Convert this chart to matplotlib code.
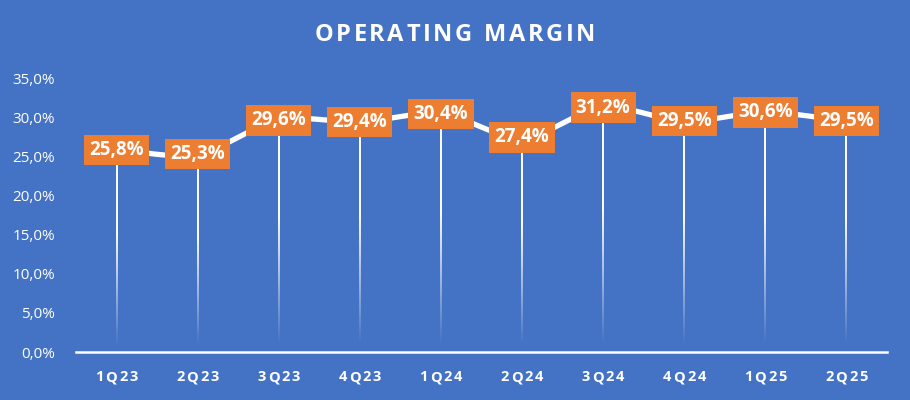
import numpy as np
import matplotlib
matplotlib.use("Agg")
import matplotlib.pyplot as plt
from matplotlib.collections import LineCollection

categories = ["1Q23", "2Q23", "3Q23", "4Q23", "1Q24", "2Q24", "3Q24", "4Q24", "1Q25", "2Q25"]
margin = [25.8, 25.3, 29.6, 29.4, 30.4, 27.4, 31.2, 29.5, 30.6, 29.5]
y_ticks = [0, 5, 10, 15, 20, 25, 30, 35]

BG = "#4472C4"
ORANGE = "#ED7D31"
plt.rcParams['font.family'] = ['Open Sans', 'DejaVu Sans']
W, H = 910, 400

fig = plt.figure(figsize=(9.1, 4.0), dpi=100, facecolor=BG)
ax = fig.add_axes([76/W, 1-352/H, (887-76)/W, (352-78)/H])
ax.set_facecolor(BG)
renderer = fig.canvas.get_renderer()

x = np.arange(len(categories))
y = np.array(margin)

def spaced_text(s, cx, cy, tracking, fontsize, **kw):
    """Draw string centered at pixel (cx, cy from top) with extra letter spacing (px)."""
    ts, widths = [], []
    for ch in s:
        if ch == " ":
            ts.append(None)
            widths.append(0.28 * fontsize * 100/72)
        else:
            t = fig.text(0, 0, ch, ha="left", va="center", fontsize=fontsize, **kw)
            ts.append(t)
            widths.append(t.get_window_extent(renderer).width)
    total = sum(widths) + tracking*(len(s)-1)
    px = cx - total/2
    for t, w in zip(ts, widths):
        if t is not None:
            t.set_position((px/W, 1-cy/H))
        px += w + tracking

def catmull(xs, ys, n=30):
    px = np.concatenate([[2*xs[0]-xs[1]], xs, [2*xs[-1]-xs[-2]]])
    py = np.concatenate([[2*ys[0]-ys[1]], ys, [2*ys[-1]-ys[-2]]])
    ox, oy = [], []
    for i in range(1, len(px)-2):
        t = np.linspace(0, 1, n)
        for arr, out in ((px, ox), (py, oy)):
            p0, p1, p2, p3 = arr[i-1], arr[i], arr[i+1], arr[i+2]
            out.extend(0.5*((2*p1) + (-p0+p2)*t + (2*p0-5*p1+4*p2-p3)*t**2 + (-p0+3*p1-3*p2+p3)*t**3))
    return np.array(ox), np.array(oy)

sx, sy = catmull(x.astype(float), y)
ax.plot(sx, sy, color="white", lw=3.8, solid_capstyle="round", zorder=3)

# fading drop lines
N = 60
for xi, yi in zip(x, y):
    levels = np.linspace(0, yi, N+1)
    segs = [[(xi, levels[k]), (xi, levels[k+1])] for k in range(N)]
    alphas = np.clip(np.linspace(0, 1, N) * 1.8 - 0.05, 0, 1)
    cols = [(1, 1, 1, a) for a in alphas]
    ax.add_collection(LineCollection(segs, colors=cols, linewidths=1.4, zorder=2))

# labels
for xi, yi in zip(x, y):
    ax.text(xi, yi, f"{yi:.1f}%".replace(".", ","), ha="center", va="center",
            color="white", fontsize=13.5, fontweight="bold", zorder=5,
            bbox=dict(boxstyle="square,pad=0.28", facecolor=ORANGE, edgecolor="none"))

ax.set_xlim(-0.5, len(categories)-0.5)
ax.set_ylim(0, 35)
ax.set_yticks(y_ticks)
ax.set_yticklabels([f"{v:.1f}%".replace(".", ",") for v in y_ticks], color="white", fontsize=11)
ax.set_xticks(x)
ax.set_xticklabels([])
ax.tick_params(length=0)
ax.tick_params(axis="y", pad=15)
for s in ["top", "right", "left"]:
    ax.spines[s].set_visible(False)
ax.spines["bottom"].set_color("white")
ax.spines["bottom"].set_linewidth(1.8)

# x category labels with letter spacing
for i, c in enumerate(categories):
    cx = 76 + (887-76)/len(categories)*(i+0.5)
    spaced_text(c, cx, 377, 2.0, 10.5, color="white", fontweight="bold")

spaced_text("OPERATING MARGIN", 455, 35, 2.6, 17, color="white", fontweight="bold")

fig.savefig("out.png", dpi=100, facecolor=BG)
